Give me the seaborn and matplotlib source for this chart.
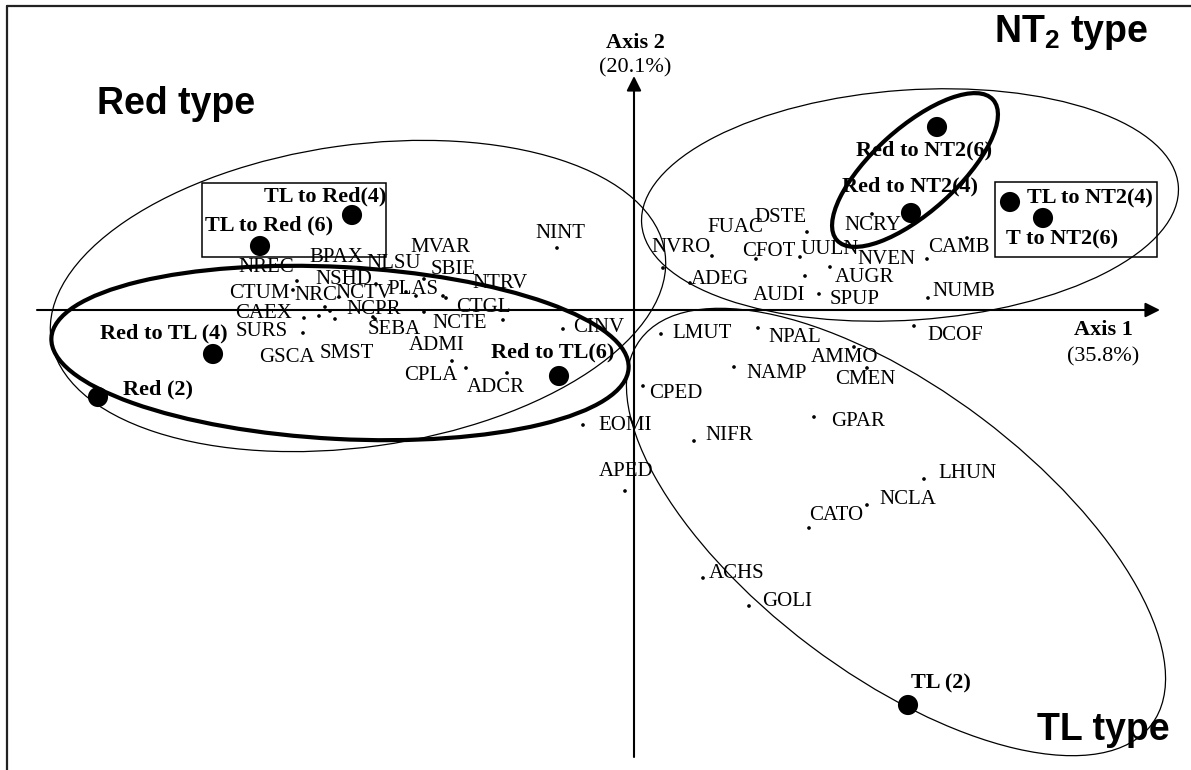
import matplotlib
matplotlib.use("Agg")
import matplotlib.pyplot as plt
from matplotlib.patches import Ellipse, Rectangle
from matplotlib.lines import Line2D
import seaborn as sns
import pandas as pd

# ---------------- data (PCA scores, axis 1 / axis 2) ----------------
species = ["NREC", "CTUM", "CAEX", "SURS", "GSCA", "SMST", "NRC", "BPAX", "NCTV", "NSHD",
           "NCPR", "SEBA", "PLAS", "MVAR", "NLSU", "SBIE", "NTRV", "CTGL", "NCTE", "ADMI",
           "CPLA", "ADCR", "CINV", "NINT", "EOMI", "APED", "CPED", "LMUT", "NPAL", "DCOF",
           "AMMO", "CMEN", "NAMP", "GPAR", "NIFR", "LHUN", "NCLA", "CATO", "ACHS", "GOLI",
           "NVRO", "FUAC", "ADEG", "DSTE", "CFOT", "UULN", "NVEN", "AUGR", "AUDI", "SPUP",
           "NCRY", "CAMB", "NUMB"]
sp_axis1 = [-1.348, -1.364, -1.320, -1.324, -1.260, -1.196, -1.236, -1.216, -1.180, -1.032,
            -1.044, -1.036, -0.912, -0.872, -0.840, -0.764, -0.752, -0.840, -0.524, -0.672,
            -0.728, -0.508, -0.284, -0.308, -0.204, -0.036, 0.036, 0.108, 0.496, 1.120,
            0.880, 0.932, 0.400, 0.720, 0.240, 1.160, 0.932, 0.700, 0.276, 0.460,
            0.312, 0.116, 0.224, 0.692, 0.488, 0.664, 1.172, 0.784, 0.684, 0.740,
            0.952, 1.332, 1.176]
sp_axis2 = [0.116, 0.080, -0.032, -0.092, -0.024, -0.036, 0.012, -0.004, 0.052, 0.104,
            -0.028, -0.036, 0.072, 0.056, 0.124, 0.056, 0.048, -0.008, -0.040, -0.232,
            -0.204, -0.252, -0.076, 0.248, -0.460, -0.724, -0.304, -0.096, -0.072, -0.064,
            -0.148, -0.232, -0.228, -0.428, -0.524, -0.676, -0.780, -0.872, -1.072, -1.184,
            0.216, 0.168, 0.108, 0.312, 0.204, 0.212, 0.204, 0.172, 0.136, 0.064,
            0.384, 0.288, 0.048]

samples = ["TL to Red(4)", "TL to Red (6)", "Red to TL (4)", "Red (2)", "Red to TL(6)",
           "Red to NT2(6)", "Red to NT2(4)", "TL to NT2(4)", "T to NT2(6)", "TL (2)"]
smp_axis1 = [-1.128, -1.496, -1.684, -2.144, -0.300, 1.212, 1.108, 1.504, 1.636, 1.096]
smp_axis2 = [0.380, 0.256, -0.176, -0.348, -0.264, 0.732, 0.388, 0.432, 0.368, -1.580]

axis1_title, axis1_pct = "Axis 1", "(35.8%)"
axis2_title, axis2_pct = "Axis 2", "(20.1%)"
type_labels = ["Red type", "NT$_2$ type", "TL type"]

# ---------------- label placement (pixel offsets from the point) ----------------
sp_offsets = [(-31, -13), (-34, 3), (-40, -5), (-41, -1), (-32, 42), (12, 34), (-9, -12), (6, -54),
              (25, -4), (-32, -5), (1, -8), (19, 11), (7, -2), (24, -48), (-30, -16), (10, -26),
              (54, -15), (59, -5), (-43, 3), (-29, -23), (-21, 15), (-11, 14), (36, -2), (3, -14),
              (42, 0), (1, -19), (33, 8), (41, -1), (37, 9), (41, 10), (-9, 11), (-2, 12),
              (43, 6), (44, 4), (35, -5), (43, -6), (41, -5), (27, -13), (34, -5), (38, -4),
              (-31, -8), (72, -41), (30, -3), (-27, -15), (13, -7), (30, -7), (-41, 1), (34, 11),
              (-26, 19), (36, 6), (1, 11), (-8, 10), (36, -6)]
smp_offsets = [(-27, -19), (9, -21), (-49, -21), (60, -8), (-6, -24),
               (-13, 23), (-1, -27), (80, -4), (19, 21), (33, -22)]

# ---------------- figure ----------------
W, H = 1191, 770
S = 250.0          # pixels per score unit
OX, OY = 634, 310  # pixel position of the origin

def p2d(x, y):
    return (x - OX) / S, (OY - y) / S

sns.set_theme(style="white")
plt.rcParams['font.family'] = ['Liberation Serif', 'DejaVu Serif']
plt.rcParams['text.color'] = 'black'
plt.rcParams['mathtext.fontset'] = 'custom'
plt.rcParams['mathtext.rm'] = 'Liberation Sans:bold'
plt.rcParams['mathtext.it'] = 'Liberation Sans:bold'
plt.rcParams['mathtext.bf'] = 'Liberation Sans:bold'

fig = plt.figure(figsize=(W / 100, H / 100), dpi=100)
fig.patch.set_facecolor("white")
ax = fig.add_axes([0, 0, 1, 1])
ax.set_xlim(-OX / S, (W - OX) / S)
ax.set_ylim((OY - H) / S, OY / S)
ax.axis("off")

# outer frame
fig.add_artist(Line2D([7 / W, 1], [1 - 6 / H, 1 - 6 / H], transform=fig.transFigure, color="#222222", lw=1.6))
fig.add_artist(Line2D([7 / W, 7 / W], [0, 1 - 6 / H], transform=fig.transFigure, color="#222222", lw=1.6))

# axes arrows
x0, _ = p2d(37, 0)
x1, _ = p2d(1160, 0)
_, y0 = p2d(0, 757)
_, y1 = p2d(0, 76)
ap = dict(arrowstyle="-|>", lw=1.5, color="black", mutation_scale=22, shrinkA=0, shrinkB=0)
ax.annotate("", xy=(x1, 0), xytext=(x0, 0), arrowprops=ap)
ax.annotate("", xy=(0, y1), xytext=(0, y0), arrowprops=ap)

# cluster ellipses: (center x, center y, width, height, angle, linewidth)
ellipses = [(-1.104, 0.056, 2.48, 1.208, 8, 0.9),
            (-1.176, -0.172, 2.312, 0.688, -3, 3.0),
            (1.104, 0.420, 2.152, 0.92, 4, 0.9),
            (1.124, 0.560, 0.84, 0.336, 42, 3.0),
            (1.048, -0.888, 2.56, 1.14, -37, 0.9)]
for cx, cy, w, h, a, lw in ellipses:
    ax.add_patch(Ellipse((cx, cy), w, h, angle=a, fill=False, ec="black", lw=lw))

# boxes around sample pairs
for (xa, ya), (xb, yb) in [((202, 257), (386, 183)), ((995, 257), (1157, 182))]:
    dx0, dy0 = p2d(xa, ya)
    dx1, dy1 = p2d(xb, yb)
    ax.add_patch(Rectangle((dx0, dy0), dx1 - dx0, dy1 - dy0, fill=False, ec="black", lw=1.1))

# points
sp_df = pd.DataFrame({"axis1": sp_axis1, "axis2": sp_axis2, "label": species})
smp_df = pd.DataFrame({"axis1": smp_axis1, "axis2": smp_axis2, "label": samples})
sns.scatterplot(data=sp_df, x="axis1", y="axis2", ax=ax, s=7, color="black",
                edgecolor="none", legend=False, zorder=4)
sns.scatterplot(data=smp_df, x="axis1", y="axis2", ax=ax, s=210, color="black",
                edgecolor="none", legend=False, zorder=4)
ax.set_xlim(-OX / S, (W - OX) / S)
ax.set_ylim((OY - H) / S, OY / S)

for (lab, xx, yy), (dx, dy) in zip(zip(species, sp_axis1, sp_axis2), sp_offsets):
    ax.annotate(lab, (xx, yy), xytext=(dx, -dy), textcoords="offset pixels",
                ha="center", va="center", fontsize=15, color="black", zorder=5)
for (lab, xx, yy), (dx, dy) in zip(zip(samples, smp_axis1, smp_axis2), smp_offsets):
    ax.annotate(lab, (xx, yy), xytext=(dx, -dy), textcoords="offset pixels",
                ha="center", va="center", fontsize=16, fontweight="bold", color="black", zorder=5)

# axis titles
for (tx, ty), t, wt in [((635, 43), axis2_title, "bold"), ((635, 68), axis2_pct, "normal"),
                        ((1103, 330), axis1_title, "bold"), ((1103, 357), axis1_pct, "normal")]:
    ax.text(*p2d(tx, ty), t, ha="center", va="center", fontsize=16, fontweight=wt, color="black")

# type labels
for (tx, ty), t in zip([(176, 104), (1071, 33), (1103, 730)], type_labels):
    ax.text(*p2d(tx, ty), t, ha="center", va="center", fontsize=27, fontweight="bold",
            color="black", family=["Liberation Sans", "DejaVu Sans"])

fig.savefig("out.png", dpi=100, facecolor="white")
